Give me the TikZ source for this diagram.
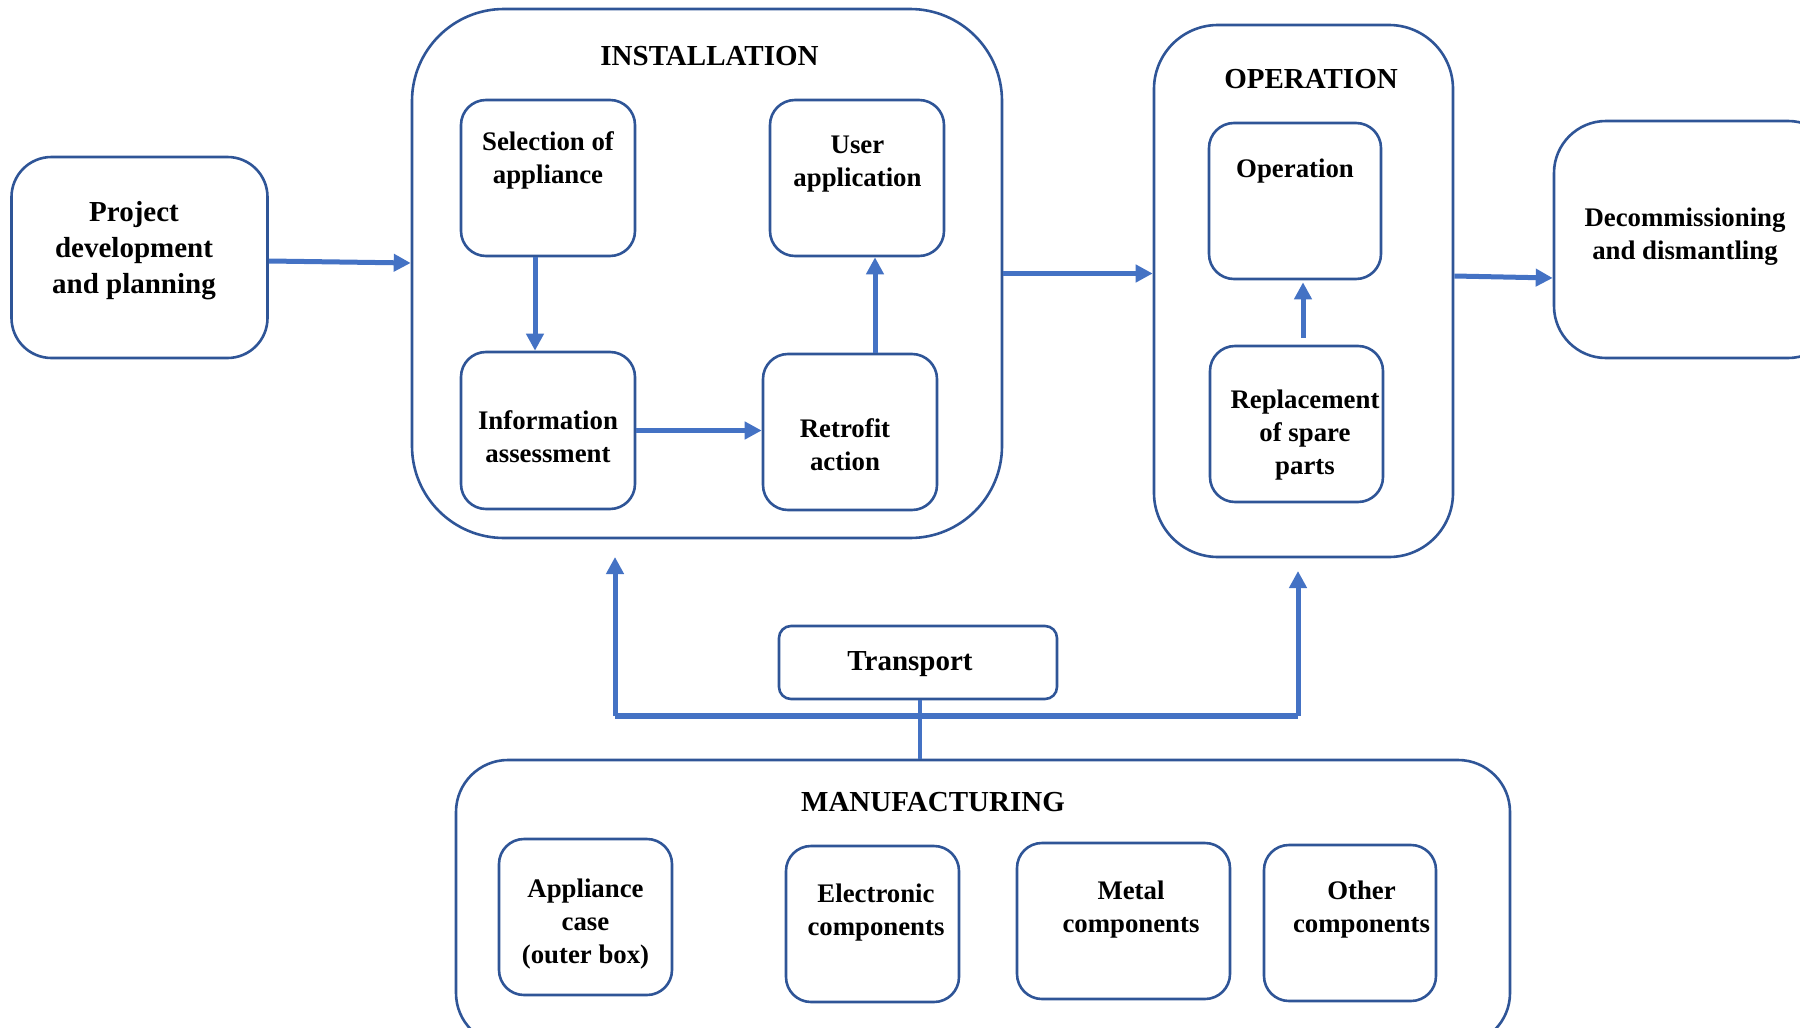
\documentclass[tikz,border=0pt]{standalone}
\usepackage{fontspec}
\setmainfont{Liberation Serif}
\usetikzlibrary{arrows.meta}
\definecolor{edgeblue}{RGB}{47,85,151}
\definecolor{flowblue}{RGB}{68,114,196}
\tikzset{
  box/.style={draw=edgeblue, line width=1.3pt, inner sep=0pt, rounded corners=12.5pt,
    minimum width=87pt, minimum height=78pt},
  stagebox/.style={box, rounded corners=#1},
  txt/.style={font=\bfseries\fontsize{13.4}{16.5}\selectfont, align=center, inner sep=0pt, yshift=-1.25pt},
  bigtxt/.style={font=\bfseries\fontsize{14.5}{18}\selectfont, align=center, inner sep=0pt, yshift=-1.25pt},
  flowarrow/.style={draw=flowblue, line width=2.5pt, -{Triangle[length=8.5pt,width=8.5pt]}},
  busline/.style={draw=flowblue, line width=3.1pt},
}
\begin{document}
\begin{tikzpicture}[x=0.5pt,y=-0.5pt]
\useasboundingbox (0,0) rectangle (1800,1028);
% outer stages
\node[stagebox=20pt, minimum width=128pt, minimum height=100.5pt] (proj) at (139.5,257.5) {};
\node[stagebox=46pt, minimum width=295pt, minimum height=264.5pt] (inst) at (707,273.5) {};
\node[stagebox=32pt, minimum width=149.5pt, minimum height=266pt] (oper) at (1303.5,291) {};
\node[stagebox=26pt, minimum width=143pt, minimum height=118.5pt] (decom) at (1697,239.5) {};
\node[stagebox=6pt, minimum width=139pt, minimum height=36.5pt] (trans) at (918,662.5) {};
\node[stagebox=26pt, minimum width=527pt, minimum height=142.5pt] (manu) at (983,902.5) {};
% inner boxes
\node[box] (sel) at (548,178) {};
\node[box] (user) at (857,178) {};
\node[box, minimum height=78.5pt] (info) at (548,430.5) {};
\node[box] (retro) at (850,432) {};
\node[box, minimum width=86pt] (opin) at (1295,201) {};
\node[box, minimum width=86.5pt] (repl) at (1296.5,424) {};
\node[box, minimum width=86.5pt] (case) at (585.5,917) {};
\node[box, minimum width=86.5pt] (elec) at (872.5,924) {};
\node[box, minimum width=106.5pt] (metal) at (1123.5,921) {};
\node[box, minimum width=86pt] (other) at (1350,923) {};
% texts
\node[bigtxt] (proj-t) at (134,248) {Project\\development\\and planning};
\node[bigtxt] (inst-t) at (709.5,54) {INSTALLATION};
\node[bigtxt] (oper-t) at (1311,77) {OPERATION};
\node[bigtxt] (trans-t) at (910,662) {Transport};
\node[bigtxt] (manu-t) at (933,800) {MANUFACTURING};
\node[txt] (sel-t) at (548,158) {Selection of\\appliance};
\node[txt] (user-t) at (857.5,162) {User\\application};
\node[txt] (info-t) at (548,434) {Information\\assessment};
\node[txt] (retro-t) at (845,442) {Retrofit\\action};
\node[txt] (opin-t) at (1295,169) {Operation};
\node[txt] (repl-t) at (1305,433) {Replacement\\of spare\\parts};
\node[txt] (decom-t) at (1685,234) {Decommissioning\\and dismantling};
\node[txt] (case-t) at (585.5,922) {Appliance\\case\\(outer box)};
\node[txt] (elec-t) at (876,910) {Electronic\\components};
\node[txt] (metal-t) at (1131,907.5) {Metal\\components};
\node[txt] (other-t) at (1361.5,907.5) {Other\\components};
% flows
\draw[flowarrow] ([yshift=-1.75pt]proj.east) -- ([yshift=5.25pt]inst.west);
\draw[flowarrow] ([xshift=-6.5pt]sel.south) -- ([xshift=-6.5pt]info.north);
\draw[flowarrow] (info.east) -- (info.east -| retro.west);
\draw[flowarrow] ([xshift=12.5pt]retro.north) -- ([xshift=12.5pt]retro.north |- user.south);
\draw[flowarrow] (inst.east) -- (inst.east -| oper.west);
\draw[flowarrow] ([xshift=3.25pt,yshift=3.5pt]repl.north) -- ([xshift=3.25pt,yshift=-1pt]repl.north |- opin.south);
\draw[flowarrow] ([yshift=7.5pt]oper.east) -- ([yshift=6.5pt]oper.east -| decom.west);
% transport bus
\coordinate (busL) at (615,716);
\coordinate (busR) at (1298,716);
\coordinate (tipL) at (615,557);
\coordinate (tipR) at (1298,571);
\draw[draw=flowblue, line width=1.9pt] ([xshift=1pt]trans.south) -- ([xshift=1pt]trans.south |- manu.north);
\draw[busline] (busL) -- (busR);
\draw[flowarrow] (busL) -- (tipL);
\draw[flowarrow] (busR) -- (tipR);
\end{tikzpicture}
\end{document}
